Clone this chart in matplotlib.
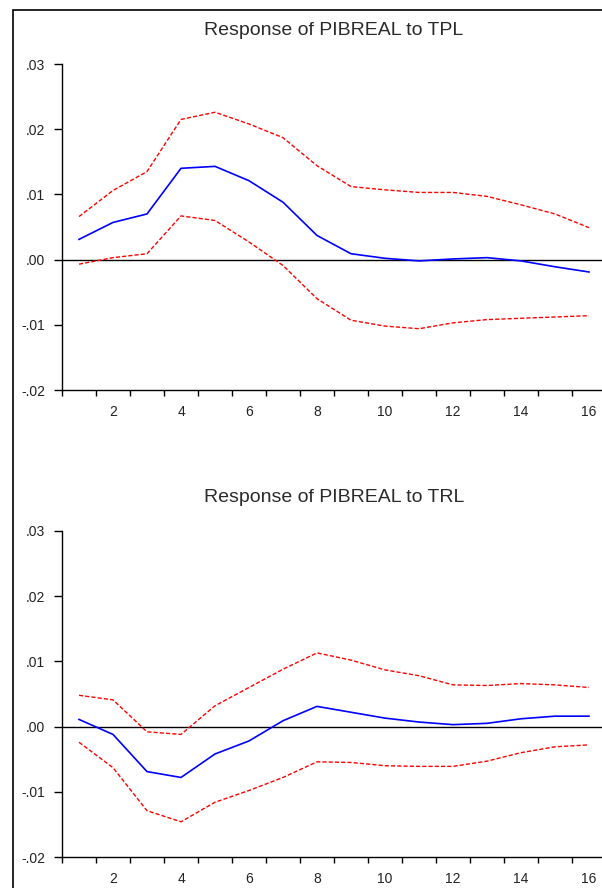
import numpy as np
import matplotlib
matplotlib.use("Agg")
import matplotlib.pyplot as plt
from matplotlib.patches import Rectangle

plt.rcParams['font.family'] = ['Liberation Sans', 'DejaVu Sans']

# impulse response periods
periods = np.arange(1, 17)

# Response of PIBREAL to TPL
tpl_resp = [0.0031, 0.0057, 0.0070, 0.0140, 0.0143, 0.0121, 0.0088, 0.0037,
            0.0009, 0.0002, -0.0002, 0.0001, 0.0003, -0.0002, -0.0011, -0.0019]
tpl_upper = [0.0066, 0.0106, 0.0135, 0.0215, 0.0226, 0.0208, 0.0187, 0.0144,
             0.0112, 0.0107, 0.0103, 0.0103, 0.0097, 0.0084, 0.0070, 0.0049]
tpl_lower = [-0.0007, 0.0003, 0.0009, 0.0067, 0.0060, 0.0027, -0.0009, -0.0060,
             -0.0093, -0.0102, -0.0106, -0.0097, -0.0092, -0.0090, -0.0088, -0.0086]

# Response of PIBREAL to TRL
trl_resp = [0.0011, -0.0012, -0.0069, -0.0078, -0.0042, -0.0022, 0.0009, 0.0031,
            0.0022, 0.0013, 0.0007, 0.0003, 0.0005, 0.0012, 0.0016, 0.0016]
trl_upper = [0.0048, 0.0041, -0.0008, -0.0012, 0.0032, 0.0060, 0.0088, 0.0113,
             0.0102, 0.0087, 0.0078, 0.0064, 0.0063, 0.0066, 0.0064, 0.0060]
trl_lower = [-0.0024, -0.0063, -0.0129, -0.0146, -0.0116, -0.0098, -0.0078, -0.0054,
             -0.0055, -0.0060, -0.0061, -0.0061, -0.0053, -0.0040, -0.0031, -0.0028]

titles = ['Response of PIBREAL to TPL', 'Response of PIBREAL to TRL']
y_ticks = [-0.02, -0.01, 0.0, 0.01, 0.02, 0.03]
y_labels = ['-.02', '-.01', '.00', '.01', '.02', '.03']
x_labels = [2, 4, 6, 8, 10, 12, 14, 16]

W, H = 602, 888
fig = plt.figure(figsize=(W / 100, H / 100), dpi=100)

# outer frame (left and top edges visible)
fig.patches.append(Rectangle((13 / W, -0.1), 2, 1.1 - 10 / H, transform=fig.transFigure,
                             fill=False, edgecolor='black', linewidth=1.2))

panels = [(tpl_resp, tpl_upper, tpl_lower), (trl_resp, trl_upper, trl_lower)]
tops = [64, 531]

for (resp, up, lo), title, top in zip(panels, titles, tops):
    ax = fig.add_axes([62 / W, 1 - (top + 326) / H, 544 / W, 326 / H])
    ax.axhline(0, color='black', linewidth=1.0)
    ax.plot(periods, up, color='#ff0000', linewidth=1.0, linestyle=(0, (3, 1.5)))
    ax.plot(periods, lo, color='#ff0000', linewidth=1.0, linestyle=(0, (3, 1.5)))
    ax.plot(periods, resp, color='#0000ff', linewidth=1.2)
    ax.set_xlim(0.5, 16.5)
    ax.set_ylim(-0.02, 0.03)
    for s in ['top', 'right']:
        ax.spines[s].set_visible(False)
    ax.spines['left'].set_linewidth(1.0)
    ax.spines['bottom'].set_linewidth(1.0)
    ax.set_yticks(y_ticks)
    ax.set_yticklabels(y_labels)
    ax.set_xticks(np.arange(0.5, 17, 1.0))
    ax.set_xticklabels([])
    ax.set_xticks(x_labels, minor=True)
    ax.set_xticklabels([str(v) for v in x_labels], minor=True)
    ax.tick_params(axis='x', which='major', direction='out', length=4.5, width=1)
    ax.tick_params(axis='x', which='minor', length=0, pad=11, labelsize=10, labelcolor='#222222')
    ax.tick_params(axis='y', direction='out', length=6, width=1, pad=6,
                   labelsize=10, labelcolor='#222222')
    ax.set_title(title, fontsize=14, color='#2a2a2a', pad=21)

fig.savefig('out.png', dpi=100)
